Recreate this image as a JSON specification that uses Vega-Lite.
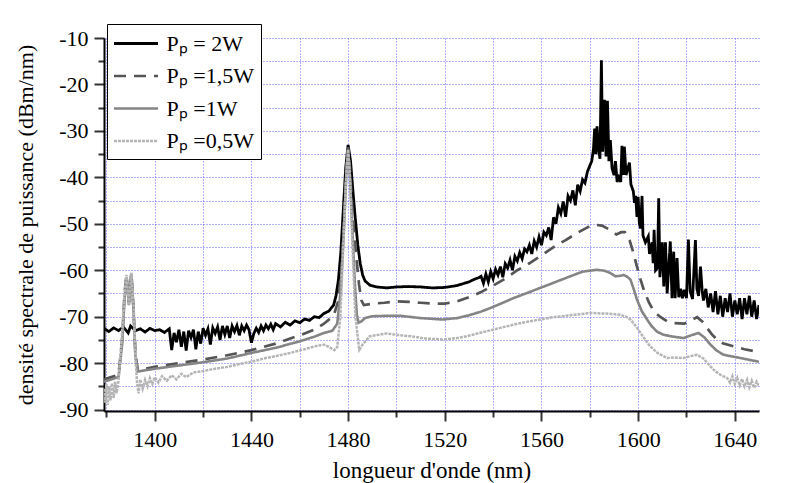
{
"$schema": "https://vega.github.io/schema/vega-lite/v6.json",
"width": 655, "height": 373,
"autosize": {"type": "none"},
"padding": {"left": 104, "top": 38, "right": 40, "bottom": 72},
"background": "white",
"config": {"view": {"stroke": null}, "font": "Liberation Serif",
  "axis": {"labelFont": "Liberation Serif", "titleFont": "Liberation Serif"},
  "legend": {"labelFont": "Liberation Serif"}},
"data": {"values": [
{"s":"2W","x":1379,"y":-72.5},{"s":"2W","x":1381,"y":-73.2},{"s":"2W","x":1383,"y":-72.4},{"s":"2W","x":1385,"y":-73.0},{"s":"2W","x":1387,"y":-72.2},{"s":"2W","x":1389,"y":-73.5},{"s":"2W","x":1390,"y":-72.0},{"s":"2W","x":1392,"y":-73.0},{"s":"2W","x":1394,"y":-72.6},{"s":"2W","x":1396,"y":-73.3},{"s":"2W","x":1398,"y":-72.5},{"s":"2W","x":1400,"y":-73.0},{"s":"2W","x":1402,"y":-72.8},{"s":"2W","x":1404,"y":-73.4},{"s":"2W","x":1406,"y":-72.6},{"s":"2W","x":1407,"y":-77.2},{"s":"2W","x":1408,"y":-73.5},{"s":"2W","x":1409,"y":-75.5},{"s":"2W","x":1410,"y":-72.8},{"s":"2W","x":1411,"y":-76.5},{"s":"2W","x":1412,"y":-73.2},{"s":"2W","x":1413,"y":-77.3},{"s":"2W","x":1414,"y":-73.0},{"s":"2W","x":1415,"y":-74.5},{"s":"2W","x":1416,"y":-72.8},{"s":"2W","x":1417,"y":-77.0},{"s":"2W","x":1418,"y":-73.2},{"s":"2W","x":1419,"y":-75.8},{"s":"2W","x":1420,"y":-72.5},{"s":"2W","x":1421,"y":-74.0},{"s":"2W","x":1422,"y":-72.6},{"s":"2W","x":1423,"y":-76.0},{"s":"2W","x":1424,"y":-72.4},{"s":"2W","x":1425,"y":-73.6},{"s":"2W","x":1426,"y":-72.2},{"s":"2W","x":1427,"y":-75.0},{"s":"2W","x":1428,"y":-72.0},{"s":"2W","x":1429,"y":-73.8},{"s":"2W","x":1430,"y":-72.0},{"s":"2W","x":1431,"y":-74.6},{"s":"2W","x":1432,"y":-72.0},{"s":"2W","x":1433,"y":-73.2},{"s":"2W","x":1434,"y":-71.9},{"s":"2W","x":1435,"y":-74.0},{"s":"2W","x":1436,"y":-72.0},{"s":"2W","x":1437,"y":-73.0},{"s":"2W","x":1438,"y":-71.8},{"s":"2W","x":1439,"y":-72.8},{"s":"2W","x":1440,"y":-75.6},{"s":"2W","x":1441,"y":-73.6},{"s":"2W","x":1442,"y":-72.5},{"s":"2W","x":1443,"y":-73.4},{"s":"2W","x":1444,"y":-72.0},{"s":"2W","x":1445,"y":-73.0},{"s":"2W","x":1446,"y":-71.8},{"s":"2W","x":1447,"y":-72.6},{"s":"2W","x":1448,"y":-71.6},{"s":"2W","x":1449,"y":-72.8},{"s":"2W","x":1450,"y":-71.5},{"s":"2W","x":1452,"y":-72.2},{"s":"2W","x":1454,"y":-71.2},{"s":"2W","x":1456,"y":-71.8},{"s":"2W","x":1458,"y":-70.9},{"s":"2W","x":1460,"y":-71.3},{"s":"2W","x":1462,"y":-70.5},{"s":"2W","x":1464,"y":-70.8},{"s":"2W","x":1466,"y":-70.0},{"s":"2W","x":1468,"y":-70.2},{"s":"2W","x":1470,"y":-69.3},{"s":"2W","x":1472,"y":-68.8},{"s":"2W","x":1474,"y":-67.5},{"s":"2W","x":1475,"y":-65.5},{"s":"2W","x":1476,"y":-62.0},{"s":"2W","x":1477,"y":-56.0},{"s":"2W","x":1478,"y":-47.0},{"s":"2W","x":1479,"y":-38.0},{"s":"2W","x":1480,"y":-33.0},{"s":"2W","x":1481,"y":-36.5},{"s":"2W","x":1482,"y":-43.0},{"s":"2W","x":1483,"y":-49.0},{"s":"2W","x":1484,"y":-54.5},{"s":"2W","x":1485,"y":-58.5},{"s":"2W","x":1486,"y":-61.0},{"s":"2W","x":1487,"y":-62.3},{"s":"2W","x":1489,"y":-63.2},{"s":"2W","x":1492,"y":-63.6},{"s":"2W","x":1496,"y":-63.8},{"s":"2W","x":1500,"y":-63.6},{"s":"2W","x":1505,"y":-63.5},{"s":"2W","x":1510,"y":-63.6},{"s":"2W","x":1515,"y":-63.8},{"s":"2W","x":1520,"y":-63.7},{"s":"2W","x":1525,"y":-63.3},{"s":"2W","x":1530,"y":-62.5},{"s":"2W","x":1532,"y":-62.0},{"s":"2W","x":1534,"y":-61.6},{"s":"2W","x":1535,"y":-61.3},{"s":"2W","x":1536,"y":-62.8},{"s":"2W","x":1537,"y":-60.8},{"s":"2W","x":1538,"y":-62.5},{"s":"2W","x":1539,"y":-60.3},{"s":"2W","x":1540,"y":-61.8},{"s":"2W","x":1541,"y":-59.8},{"s":"2W","x":1542,"y":-61.0},{"s":"2W","x":1543,"y":-59.2},{"s":"2W","x":1544,"y":-61.5},{"s":"2W","x":1545,"y":-58.6},{"s":"2W","x":1546,"y":-59.5},{"s":"2W","x":1547,"y":-57.8},{"s":"2W","x":1548,"y":-60.0},{"s":"2W","x":1549,"y":-57.0},{"s":"2W","x":1550,"y":-58.0},{"s":"2W","x":1551,"y":-56.2},{"s":"2W","x":1552,"y":-57.5},{"s":"2W","x":1553,"y":-55.4},{"s":"2W","x":1554,"y":-56.0},{"s":"2W","x":1555,"y":-54.6},{"s":"2W","x":1556,"y":-56.5},{"s":"2W","x":1557,"y":-53.7},{"s":"2W","x":1558,"y":-55.0},{"s":"2W","x":1559,"y":-52.8},{"s":"2W","x":1560,"y":-54.6},{"s":"2W","x":1561,"y":-51.8},{"s":"2W","x":1562,"y":-52.5},{"s":"2W","x":1563,"y":-50.8},{"s":"2W","x":1564,"y":-53.5},{"s":"2W","x":1565,"y":-48.6},{"s":"2W","x":1566,"y":-50.0},{"s":"2W","x":1567,"y":-46.5},{"s":"2W","x":1568,"y":-47.8},{"s":"2W","x":1569,"y":-45.2},{"s":"2W","x":1570,"y":-48.5},{"s":"2W","x":1571,"y":-44.0},{"s":"2W","x":1572,"y":-45.0},{"s":"2W","x":1573,"y":-42.8},{"s":"2W","x":1574,"y":-46.0},{"s":"2W","x":1575,"y":-41.6},{"s":"2W","x":1576,"y":-43.0},{"s":"2W","x":1577,"y":-40.5},{"s":"2W","x":1578,"y":-41.2},{"s":"2W","x":1579,"y":-38.8},{"s":"2W","x":1580,"y":-37.5},{"s":"2W","x":1580.8,"y":-36.5},{"s":"2W","x":1581.5,"y":-34.0},{"s":"2W","x":1582,"y":-29.5},{"s":"2W","x":1582.5,"y":-35.0},{"s":"2W","x":1583,"y":-29.0},{"s":"2W","x":1583.5,"y":-33.5},{"s":"2W","x":1584.2,"y":-36.0},{"s":"2W","x":1584.8,"y":-14.8},{"s":"2W","x":1585.3,"y":-34.5},{"s":"2W","x":1586.1,"y":-23.3},{"s":"2W","x":1586.7,"y":-35.5},{"s":"2W","x":1587.3,"y":-23.5},{"s":"2W","x":1587.9,"y":-36.5},{"s":"2W","x":1588.5,"y":-32.0},{"s":"2W","x":1589.2,"y":-38.0},{"s":"2W","x":1590,"y":-39.5},{"s":"2W","x":1590.6,"y":-36.5},{"s":"2W","x":1591.3,"y":-41.0},{"s":"2W","x":1592,"y":-40.0},{"s":"2W","x":1592.8,"y":-41.0},{"s":"2W","x":1593.3,"y":-33.2},{"s":"2W","x":1593.8,"y":-39.5},{"s":"2W","x":1594.3,"y":-33.4},{"s":"2W","x":1595,"y":-39.5},{"s":"2W","x":1595.8,"y":-38.0},{"s":"2W","x":1596.4,"y":-36.8},{"s":"2W","x":1597,"y":-41.5},{"s":"2W","x":1598,"y":-43.0},{"s":"2W","x":1598.5,"y":-45.5},{"s":"2W","x":1599,"y":-44.0},{"s":"2W","x":1599.5,"y":-48.5},{"s":"2W","x":1600,"y":-44.2},{"s":"2W","x":1600.5,"y":-50.0},{"s":"2W","x":1601,"y":-51.0},{"s":"2W","x":1601.6,"y":-44.0},{"s":"2W","x":1602,"y":-52.5},{"s":"2W","x":1603,"y":-54.0},{"s":"2W","x":1604.2,"y":-52.7},{"s":"2W","x":1604.7,"y":-56.5},{"s":"2W","x":1605.8,"y":-54.0},{"s":"2W","x":1606.2,"y":-58.5},{"s":"2W","x":1606.6,"y":-51.3},{"s":"2W","x":1607.2,"y":-60.0},{"s":"2W","x":1608,"y":-59.5},{"s":"2W","x":1608.5,"y":-44.5},{"s":"2W","x":1609,"y":-61.5},{"s":"2W","x":1610,"y":-54.0},{"s":"2W","x":1610.6,"y":-63.5},{"s":"2W","x":1611.3,"y":-54.0},{"s":"2W","x":1612,"y":-65.0},{"s":"2W","x":1613.3,"y":-53.8},{"s":"2W","x":1614,"y":-66.0},{"s":"2W","x":1614.7,"y":-56.0},{"s":"2W","x":1615.3,"y":-66.0},{"s":"2W","x":1616.1,"y":-57.4},{"s":"2W","x":1616.8,"y":-65.8},{"s":"2W","x":1617.5,"y":-64.0},{"s":"2W","x":1618.3,"y":-66.0},{"s":"2W","x":1619,"y":-64.2},{"s":"2W","x":1620,"y":-66.0},{"s":"2W","x":1620.8,"y":-53.4},{"s":"2W","x":1621.5,"y":-64.5},{"s":"2W","x":1622.5,"y":-66.2},{"s":"2W","x":1623.7,"y":-53.5},{"s":"2W","x":1624.3,"y":-64.0},{"s":"2W","x":1625,"y":-65.5},{"s":"2W","x":1625.8,"y":-59.2},{"s":"2W","x":1626.5,"y":-64.5},{"s":"2W","x":1627,"y":-66.5},{"s":"2W","x":1628,"y":-64.0},{"s":"2W","x":1629,"y":-68.0},{"s":"2W","x":1630,"y":-65.0},{"s":"2W","x":1631,"y":-69.0},{"s":"2W","x":1632,"y":-64.5},{"s":"2W","x":1633,"y":-69.5},{"s":"2W","x":1634,"y":-65.5},{"s":"2W","x":1635,"y":-70.0},{"s":"2W","x":1636,"y":-66.0},{"s":"2W","x":1637,"y":-69.0},{"s":"2W","x":1638,"y":-65.0},{"s":"2W","x":1639,"y":-70.0},{"s":"2W","x":1640,"y":-66.5},{"s":"2W","x":1641,"y":-69.5},{"s":"2W","x":1642,"y":-66.0},{"s":"2W","x":1643,"y":-70.5},{"s":"2W","x":1644,"y":-66.0},{"s":"2W","x":1645,"y":-69.5},{"s":"2W","x":1646,"y":-65.5},{"s":"2W","x":1647,"y":-70.0},{"s":"2W","x":1648,"y":-66.5},{"s":"2W","x":1649,"y":-70.5},{"s":"2W","x":1650,"y":-67.5},
{"s":"1,5W","x":1379,"y":-83.5},{"s":"1,5W","x":1382,"y":-83.0},{"s":"1,5W","x":1385,"y":-82.5},{"s":"1,5W","x":1386.5,"y":-75},{"s":"1,5W","x":1387.5,"y":-65},{"s":"1,5W","x":1388.3,"y":-61.0},{"s":"1,5W","x":1389.3,"y":-67.0},{"s":"1,5W","x":1390.3,"y":-60.5},{"s":"1,5W","x":1391.2,"y":-68.0},{"s":"1,5W","x":1392,"y":-78},{"s":"1,5W","x":1393,"y":-81.5},{"s":"1,5W","x":1400,"y":-80.8},{"s":"1,5W","x":1410,"y":-80.0},{"s":"1,5W","x":1420,"y":-79.2},{"s":"1,5W","x":1430,"y":-78.3},{"s":"1,5W","x":1440,"y":-77.2},{"s":"1,5W","x":1450,"y":-75.8},{"s":"1,5W","x":1460,"y":-74.0},{"s":"1,5W","x":1466,"y":-72.8},{"s":"1,5W","x":1470,"y":-71.5},{"s":"1,5W","x":1474,"y":-69.8},{"s":"1,5W","x":1476,"y":-66.5},{"s":"1,5W","x":1477.5,"y":-58},{"s":"1,5W","x":1478.5,"y":-46},{"s":"1,5W","x":1479.3,"y":-37},{"s":"1,5W","x":1480,"y":-33.5},{"s":"1,5W","x":1480.7,"y":-37.5},{"s":"1,5W","x":1481.5,"y":-45},{"s":"1,5W","x":1482.5,"y":-52},{"s":"1,5W","x":1483.5,"y":-57.7},{"s":"1,5W","x":1484.5,"y":-63},{"s":"1,5W","x":1485.5,"y":-66.5},{"s":"1,5W","x":1486.5,"y":-67.5},{"s":"1,5W","x":1490,"y":-67.2},{"s":"1,5W","x":1495,"y":-67.0},{"s":"1,5W","x":1500,"y":-66.7},{"s":"1,5W","x":1505,"y":-66.8},{"s":"1,5W","x":1510,"y":-67.0},{"s":"1,5W","x":1515,"y":-67.2},{"s":"1,5W","x":1520,"y":-67.2},{"s":"1,5W","x":1525,"y":-66.7},{"s":"1,5W","x":1530,"y":-65.8},{"s":"1,5W","x":1535,"y":-64.7},{"s":"1,5W","x":1540,"y":-63.3},{"s":"1,5W","x":1545,"y":-61.8},{"s":"1,5W","x":1550,"y":-60.0},{"s":"1,5W","x":1555,"y":-58.5},{"s":"1,5W","x":1560,"y":-56.8},{"s":"1,5W","x":1565,"y":-55.0},{"s":"1,5W","x":1570,"y":-53.5},{"s":"1,5W","x":1575,"y":-51.9},{"s":"1,5W","x":1580,"y":-50.5},{"s":"1,5W","x":1582,"y":-50.2},{"s":"1,5W","x":1585,"y":-50.4},{"s":"1,5W","x":1588,"y":-51.2},{"s":"1,5W","x":1591,"y":-52.3},{"s":"1,5W","x":1593,"y":-51.8},{"s":"1,5W","x":1594.5,"y":-51.8},{"s":"1,5W","x":1596.5,"y":-53.6},{"s":"1,5W","x":1598,"y":-56.2},{"s":"1,5W","x":1599.5,"y":-59.2},{"s":"1,5W","x":1601,"y":-62},{"s":"1,5W","x":1602.5,"y":-64.5},{"s":"1,5W","x":1604.5,"y":-67.0},{"s":"1,5W","x":1606.5,"y":-68.8},{"s":"1,5W","x":1609,"y":-70.0},{"s":"1,5W","x":1612,"y":-71.0},{"s":"1,5W","x":1615,"y":-71.4},{"s":"1,5W","x":1619,"y":-71.5},{"s":"1,5W","x":1622,"y":-70.8},{"s":"1,5W","x":1624.4,"y":-70.1},{"s":"1,5W","x":1626.5,"y":-71.0},{"s":"1,5W","x":1628.5,"y":-72.4},{"s":"1,5W","x":1630.5,"y":-73.8},{"s":"1,5W","x":1632.6,"y":-74.9},{"s":"1,5W","x":1635,"y":-75.7},{"s":"1,5W","x":1639.6,"y":-76.4},{"s":"1,5W","x":1644,"y":-77.0},{"s":"1,5W","x":1650,"y":-77.6},
{"s":"1W","x":1379,"y":-84.0},{"s":"1W","x":1382,"y":-83.5},{"s":"1W","x":1385,"y":-83.0},{"s":"1W","x":1386.5,"y":-76},{"s":"1W","x":1387.5,"y":-66},{"s":"1W","x":1388.3,"y":-61.5},{"s":"1W","x":1389.3,"y":-67.5},{"s":"1W","x":1390.3,"y":-61.0},{"s":"1W","x":1391.2,"y":-68.5},{"s":"1W","x":1392,"y":-78.5},{"s":"1W","x":1393,"y":-81.8},{"s":"1W","x":1400,"y":-81.2},{"s":"1W","x":1410,"y":-80.5},{"s":"1W","x":1420,"y":-79.8},{"s":"1W","x":1430,"y":-79.0},{"s":"1W","x":1440,"y":-77.8},{"s":"1W","x":1450,"y":-76.7},{"s":"1W","x":1460,"y":-75.3},{"s":"1W","x":1466,"y":-74.3},{"s":"1W","x":1470,"y":-73.5},{"s":"1W","x":1473.5,"y":-73.0},{"s":"1W","x":1475.5,"y":-71.5},{"s":"1W","x":1477,"y":-64},{"s":"1W","x":1478.2,"y":-52},{"s":"1W","x":1479.2,"y":-40},{"s":"1W","x":1480,"y":-34},{"s":"1W","x":1480.8,"y":-40},{"s":"1W","x":1481.8,"y":-52},{"s":"1W","x":1482.8,"y":-63},{"s":"1W","x":1483.6,"y":-69.5},{"s":"1W","x":1484.3,"y":-71.3},{"s":"1W","x":1485.5,"y":-71.0},{"s":"1W","x":1487,"y":-70.3},{"s":"1W","x":1490,"y":-69.9},{"s":"1W","x":1496,"y":-69.8},{"s":"1W","x":1501.5,"y":-69.8},{"s":"1W","x":1510,"y":-70.3},{"s":"1W","x":1519,"y":-70.6},{"s":"1W","x":1525,"y":-70.3},{"s":"1W","x":1530,"y":-69.7},{"s":"1W","x":1535,"y":-68.9},{"s":"1W","x":1539,"y":-68.1},{"s":"1W","x":1544,"y":-67.0},{"s":"1W","x":1548.4,"y":-66.0},{"s":"1W","x":1554,"y":-64.9},{"s":"1W","x":1559.5,"y":-63.8},{"s":"1W","x":1565,"y":-62.7},{"s":"1W","x":1571.9,"y":-61.3},{"s":"1W","x":1577,"y":-60.3},{"s":"1W","x":1582.9,"y":-59.9},{"s":"1W","x":1586,"y":-60.1},{"s":"1W","x":1588.5,"y":-60.6},{"s":"1W","x":1590.6,"y":-61.3},{"s":"1W","x":1592.5,"y":-61.2},{"s":"1W","x":1594,"y":-61.0},{"s":"1W","x":1595.5,"y":-61.4},{"s":"1W","x":1596.8,"y":-62.0},{"s":"1W","x":1598,"y":-63.8},{"s":"1W","x":1599.5,"y":-66.3},{"s":"1W","x":1601.5,"y":-68.8},{"s":"1W","x":1603.7,"y":-70.6},{"s":"1W","x":1605.5,"y":-72.0},{"s":"1W","x":1607.8,"y":-73.2},{"s":"1W","x":1610,"y":-73.8},{"s":"1W","x":1613.3,"y":-74.2},{"s":"1W","x":1618.8,"y":-74.6},{"s":"1W","x":1622,"y":-74.0},{"s":"1W","x":1625,"y":-73.5},{"s":"1W","x":1627.5,"y":-74.5},{"s":"1W","x":1629.9,"y":-76.0},{"s":"1W","x":1632.5,"y":-77.3},{"s":"1W","x":1635.4,"y":-78.2},{"s":"1W","x":1642.3,"y":-78.9},{"s":"1W","x":1650,"y":-79.7},
{"s":"0,5W","x":1379,"y":-85.5},{"s":"0,5W","x":1379.5,"y":-88.5},{"s":"0,5W","x":1380,"y":-84.5},{"s":"0,5W","x":1380.5,"y":-89},{"s":"0,5W","x":1381,"y":-85},{"s":"0,5W","x":1381.7,"y":-88},{"s":"0,5W","x":1382.3,"y":-84.3},{"s":"0,5W","x":1383,"y":-87.5},{"s":"0,5W","x":1383.6,"y":-84},{"s":"0,5W","x":1384.2,"y":-86.5},{"s":"0,5W","x":1385,"y":-83.8},{"s":"0,5W","x":1386.3,"y":-75},{"s":"0,5W","x":1387.4,"y":-66},{"s":"0,5W","x":1388.3,"y":-61},{"s":"0,5W","x":1389.3,"y":-67.5},{"s":"0,5W","x":1390.3,"y":-60.5},{"s":"0,5W","x":1391.3,"y":-68},{"s":"0,5W","x":1392,"y":-78.5},{"s":"0,5W","x":1392.7,"y":-84.5},{"s":"0,5W","x":1393.3,"y":-86.5},{"s":"0,5W","x":1394,"y":-83.5},{"s":"0,5W","x":1395,"y":-85.5},{"s":"0,5W","x":1396,"y":-83.6},{"s":"0,5W","x":1397,"y":-85},{"s":"0,5W","x":1398,"y":-83.2},{"s":"0,5W","x":1399,"y":-84.5},{"s":"0,5W","x":1400,"y":-83.0},{"s":"0,5W","x":1401.5,"y":-84.2},{"s":"0,5W","x":1403,"y":-82.8},{"s":"0,5W","x":1405,"y":-83.8},{"s":"0,5W","x":1407,"y":-82.6},{"s":"0,5W","x":1409,"y":-83.5},{"s":"0,5W","x":1411,"y":-82.3},{"s":"0,5W","x":1413,"y":-83.0},{"s":"0,5W","x":1416,"y":-82.0},{"s":"0,5W","x":1420,"y":-81.7},{"s":"0,5W","x":1425,"y":-81.2},{"s":"0,5W","x":1430,"y":-80.8},{"s":"0,5W","x":1435,"y":-80.2},{"s":"0,5W","x":1440,"y":-79.7},{"s":"0,5W","x":1445,"y":-79.0},{"s":"0,5W","x":1450,"y":-78.5},{"s":"0,5W","x":1456,"y":-77.8},{"s":"0,5W","x":1462,"y":-77.0},{"s":"0,5W","x":1466,"y":-76.4},{"s":"0,5W","x":1470,"y":-76.0},{"s":"0,5W","x":1472,"y":-76.5},{"s":"0,5W","x":1474.3,"y":-77.2},{"s":"0,5W","x":1475.5,"y":-76.5},{"s":"0,5W","x":1476.8,"y":-70},{"s":"0,5W","x":1478,"y":-55},{"s":"0,5W","x":1479.2,"y":-40},{"s":"0,5W","x":1480,"y":-34},{"s":"0,5W","x":1480.8,"y":-40},{"s":"0,5W","x":1481.8,"y":-55},{"s":"0,5W","x":1483,"y":-70},{"s":"0,5W","x":1484.6,"y":-77.1},{"s":"0,5W","x":1486,"y":-76},{"s":"0,5W","x":1489,"y":-74.2},{"s":"0,5W","x":1496,"y":-73.6},{"s":"0,5W","x":1501.5,"y":-74.0},{"s":"0,5W","x":1506,"y":-74.2},{"s":"0,5W","x":1512,"y":-74.7},{"s":"0,5W","x":1519.4,"y":-74.9},{"s":"0,5W","x":1525,"y":-74.6},{"s":"0,5W","x":1529,"y":-74.2},{"s":"0,5W","x":1536,"y":-73.3},{"s":"0,5W","x":1543,"y":-72.4},{"s":"0,5W","x":1551,"y":-71.4},{"s":"0,5W","x":1559.5,"y":-70.6},{"s":"0,5W","x":1565,"y":-70.1},{"s":"0,5W","x":1571.9,"y":-69.7},{"s":"0,5W","x":1577,"y":-69.4},{"s":"0,5W","x":1580.2,"y":-69.2},{"s":"0,5W","x":1585,"y":-69.3},{"s":"0,5W","x":1589,"y":-69.4},{"s":"0,5W","x":1592.6,"y":-69.6},{"s":"0,5W","x":1595,"y":-70.0},{"s":"0,5W","x":1596.8,"y":-70.6},{"s":"0,5W","x":1599,"y":-72.0},{"s":"0,5W","x":1601,"y":-73.5},{"s":"0,5W","x":1603,"y":-75.0},{"s":"0,5W","x":1605,"y":-76.4},{"s":"0,5W","x":1608,"y":-77.8},{"s":"0,5W","x":1612,"y":-78.9},{"s":"0,5W","x":1615,"y":-78.8},{"s":"0,5W","x":1618.8,"y":-78.9},{"s":"0,5W","x":1621.5,"y":-78.5},{"s":"0,5W","x":1624.4,"y":-78.2},{"s":"0,5W","x":1627,"y":-79.0},{"s":"0,5W","x":1629.9,"y":-80.7},{"s":"0,5W","x":1632,"y":-81.8},{"s":"0,5W","x":1634,"y":-82.5},{"s":"0,5W","x":1636.8,"y":-83.2},{"s":"0,5W","x":1638,"y":-84.2},{"s":"0,5W","x":1639,"y":-82.8},{"s":"0,5W","x":1640,"y":-84.5},{"s":"0,5W","x":1641,"y":-83.2},{"s":"0,5W","x":1642,"y":-84.8},{"s":"0,5W","x":1643,"y":-83.4},{"s":"0,5W","x":1644,"y":-85.0},{"s":"0,5W","x":1645.1,"y":-83.6},{"s":"0,5W","x":1646,"y":-85.2},{"s":"0,5W","x":1647,"y":-83.8},{"s":"0,5W","x":1648,"y":-85.3},{"s":"0,5W","x":1649,"y":-84},{"s":"0,5W","x":1650,"y":-85}
]},
"mark": {"type": "line", "clip": true},
"encoding": {
  "x": {"field": "x", "type": "quantitative",
    "scale": {"domain": [1379, 1650], "nice": false, "zero": false},
    "axis": {"title": "longueur d'onde (nm)",
      "values": [1380,1400,1420,1440,1460,1480,1500,1520,1540,1560,1580,1600,1620,1640],
      "labelExpr": "datum.value % 40 === 0 ? '' + datum.value : ''",
      "tickSize": {"expr": "datum.value % 40 === 0 ? 10 : 6"},
      "grid": true, "gridColor": "#4a4aff", "gridDash": [1, 2], "gridWidth": 1, "gridOpacity": 0.85,
      "domainColor": "black", "domainWidth": 2, "tickColor": "#333", "tickWidth": 2,
      "labelFont": "Liberation Serif", "labelFontSize": 22, "labelColor": "black", "labelPadding": 8,
      "titleFont": "Liberation Serif", "titleFontSize": 23, "titleFontWeight": "normal", "titleColor": "black", "titlePadding": 9}},
  "y": {"field": "y", "type": "quantitative",
    "scale": {"domain": [-90.3, -10], "nice": false, "zero": false},
    "axis": {"title": "densité spectrale de puissance (dBm/nm)",
      "values": [-90,-85,-80,-75,-70,-65,-60,-55,-50,-45,-40,-35,-30,-25,-20,-15,-10],
      "labelExpr": "datum.value % 10 === 0 ? '' + datum.value : ''",
      "tickSize": {"expr": "datum.value % 10 === 0 ? 10 : 6"},
      "grid": true, "gridColor": "#4a4aff", "gridDash": [1, 2], "gridWidth": 1, "gridOpacity": 0.85,
      "domainColor": "black", "domainWidth": 2, "tickColor": "#333", "tickWidth": 2,
      "labelFont": "Liberation Serif", "labelFontSize": 22, "labelColor": "black", "labelPadding": 6,
      "titleFont": "Liberation Serif", "titleFontSize": 22, "titleFontWeight": "normal", "titleColor": "black", "titlePadding": 21}},
  "color": {"field": "s", "type": "nominal",
    "scale": {"domain": ["2W", "1,5W", "1W", "0,5W"], "range": ["#000000", "#555555", "#858585", "#b5b5b5"]},
    "legend": {"orient": "none", "legendX": 3, "legendY": -14, "title": null,
      "fillColor": "white", "strokeColor": "black", "padding": 7,
      "symbolType": "M-2,0H2", "symbolSize": 484, "symbolStrokeWidth": 2.5, "symbolOffset": 9.5,
      "labelFont": "Liberation Serif", "labelFontSize": 22, "labelColor": "black", "labelLimit": 300,
      "labelOffset": 18, "rowPadding": 8.5,
      "labelExpr": "datum.label == '2W' ? 'Pₚ = 2W' : 'Pₚ =' + datum.label"}},
  "strokeDash": {"field": "s", "type": "nominal",
    "scale": {"domain": ["2W", "1,5W", "1W", "0,5W"], "range": [[1, 0], [12, 8], [1, 0], [3, 1]]},
    "legend": {"orient": "none", "legendX": 3, "legendY": -14, "title": null,
      "fillColor": "white", "strokeColor": "black", "padding": 7,
      "symbolType": "M-2,0H2", "symbolSize": 484, "symbolStrokeWidth": 2.5, "symbolOffset": 9.5,
      "labelFont": "Liberation Serif", "labelFontSize": 22, "labelColor": "black", "labelLimit": 300,
      "labelOffset": 18, "rowPadding": 8.5,
      "labelExpr": "datum.label == '2W' ? 'Pₚ = 2W' : 'Pₚ =' + datum.label"}},
  "strokeWidth": {"field": "s", "type": "ordinal",
    "scale": {"domain": ["2W", "1,5W", "1W", "0,5W"], "range": [2.8, 2.5, 2.2, 2]}, "legend": null}
}
}
